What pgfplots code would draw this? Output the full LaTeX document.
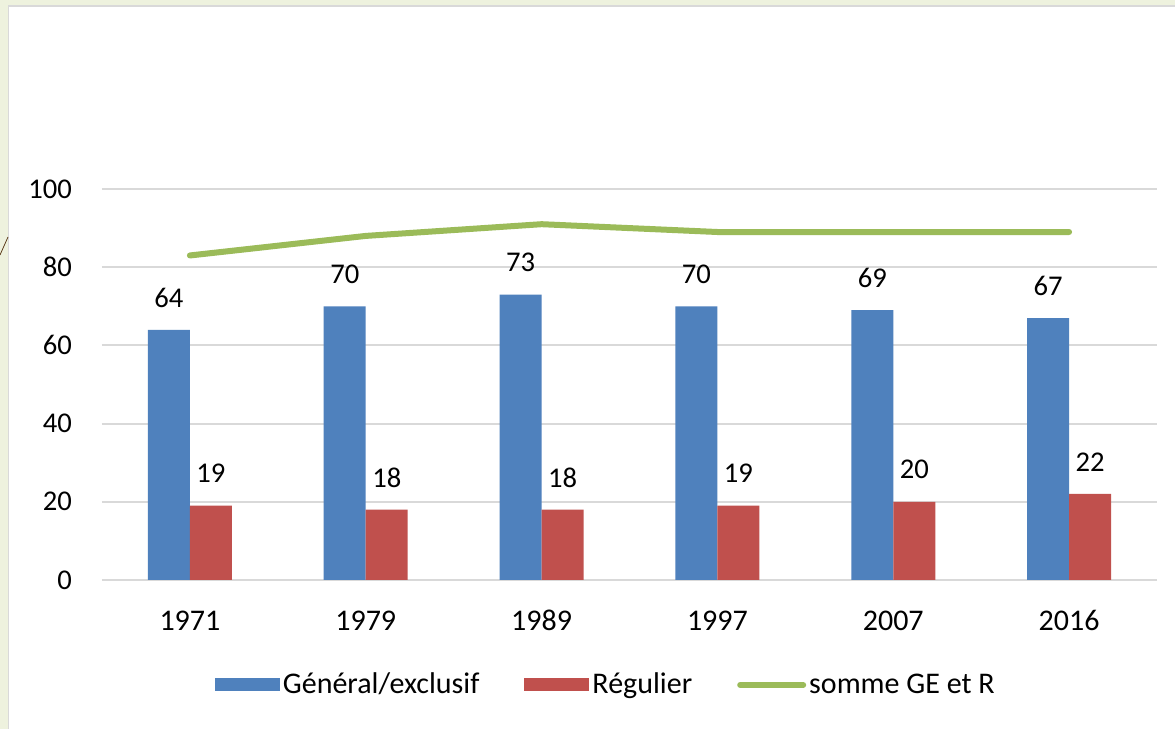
\documentclass[border=0pt]{standalone}
\usepackage{pgfplots}
\pgfplotsset{compat=1.18}
\usepackage{fontspec}
\setmainfont{Carlito}
\definecolor{blueC}{HTML}{4F81BD}
\definecolor{redC}{HTML}{C0504D}
\definecolor{greenC}{HTML}{9BBB59}
\definecolor{gridC}{HTML}{D9D9D9}
\definecolor{frameG}{RGB}{238,242,222}
\begin{document}
\begin{tikzpicture}
\fill[frameG] (0,0) rectangle (587.5pt,364.5pt);
\fill[white] (4.2pt,0) rectangle (587.5pt,361.5pt);
\draw[gridC, line width=0.8pt] (4.2pt,0) -- (4.2pt,361.5pt) -- (587.5pt,361.5pt);
\draw[black!50!brown, line width=0.4pt] (0,237pt) -- (4pt,246pt);
\begin{axis}[
  at={(51pt,74.5pt)}, anchor=south west,
  scale only axis, width=527.5pt, height=195.5pt,
  xmin=-0.5, xmax=5.5, ymin=0, ymax=100,
  ytick={0,20,40,60,80,100},
  xtick={0,1,2,3,4,5},
  xticklabels={1971,1979,1989,1997,2007,2016},
  /pgf/number format/assume math mode=true,
  yticklabel style={font=\fontsize{14.3}{16}\selectfont, xshift=-11.5pt},
  xticklabel style={font=\fontsize{15}{17}\selectfont, text height=10.5pt, text depth=0pt, yshift=-11pt},
  major tick length=0pt,
  axis line style={draw=none},
  ymajorgrids, grid style={gridC, line width=1pt},
  clip=false,
  legend style={at={(0.478,-0.2685)}, anchor=center, draw=none, fill=none,
    legend columns=3, font=\fontsize{15}{17}\selectfont,
    /tikz/every even column/.append style={column sep=21pt},
    nodes={inner sep=1.5pt}},
  every node near coord/.append style={font=\fontsize{14.3}{16}\selectfont, anchor=center, yshift=16pt, text=black},
]
\addplot[ybar, bar width=21pt, bar shift=-10.5pt, fill=blueC, draw=none, nodes near coords,
  every node near coord/.append style={xshift=-10.5pt},
  legend image code/.code={\fill[blueC] (0pt,-3.25pt) rectangle (32.5pt,3.25pt);}]
  coordinates {(0,64) (1,70) (2,73) (3,70) (4,69) (5,67)};
\addlegendentry{Général/exclusif}
\addplot[ybar, bar width=21pt, bar shift=10.5pt, fill=redC, draw=none, nodes near coords,
  every node near coord/.append style={xshift=10.5pt},
  legend image code/.code={\fill[redC] (0pt,-3.25pt) rectangle (32.5pt,3.25pt);}]
  coordinates {(0,19) (1,18) (2,18) (3,19) (4,20) (5,22)};
\addlegendentry{Régulier}
\addplot[sharp plot, greenC, line width=3pt, line cap=round, mark=none,
  legend image code/.code={\draw[greenC, line width=3pt, line cap=round] (1.5pt,0pt) -- (33pt,0pt);}]
  coordinates {(0,83) (1,88) (2,91) (3,89) (4,89) (5,89)};
\addlegendentry{somme GE et R}
\end{axis}
\pgfresetboundingbox
\path[use as bounding box] (0,0) rectangle (587.5pt,364.5pt);
\end{tikzpicture}
\end{document}
